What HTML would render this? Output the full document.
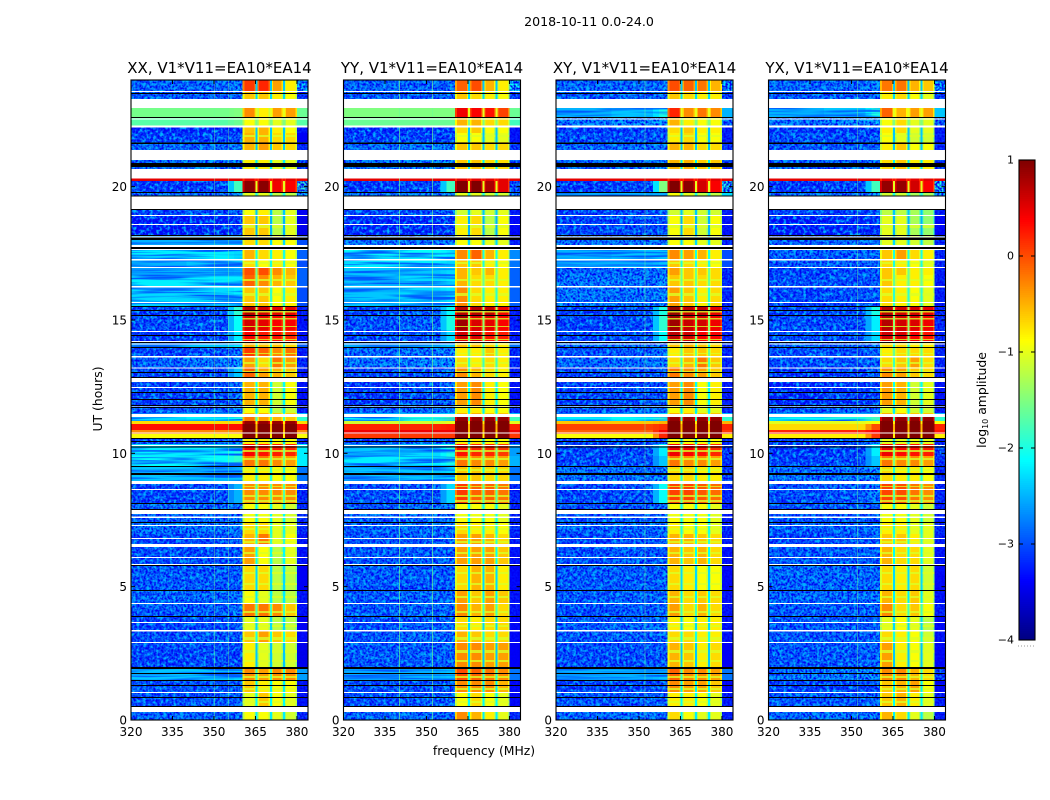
<!DOCTYPE html>
<html lang="en">
<head>
<meta charset="utf-8">
<title>2018-10-11 0.0-24.0</title>
<style>
html,body{margin:0;padding:0;background:#fff;}
svg{display:block;}
text{font-family:"DejaVu Sans","Liberation Sans",sans-serif;fill:#000;}
</style>
</head>
<body>
<svg id="figure" xmlns="http://www.w3.org/2000/svg" width="1050" height="800" viewBox="0 0 1050 800">
<defs>
<filter id="speckle-dark" x="0" y="0" width="100%" height="100%" color-interpolation-filters="sRGB">
<feTurbulence type="fractalNoise" baseFrequency="0.5" numOctaves="2" seed="3"/>
<feColorMatrix type="matrix" values="0 0 0 0 0  0 0 0 0 0  0 0 0 0 0.95  3.4 0 0 0 -1.2"/>
<feComposite in2="SourceAlpha" operator="in"/>
</filter>
<filter id="speckle-light" x="0" y="0" width="100%" height="100%" color-interpolation-filters="sRGB">
<feTurbulence type="fractalNoise" baseFrequency="0.3" numOctaves="2" seed="11"/>
<feColorMatrix type="matrix" values="0 0 0 0 0  0 0 0 0 0.7  0 0 0 0 1  0 3.4 0 0 -1.55"/>
<feComposite in2="SourceAlpha" operator="in"/>
</filter>
<filter id="streak" x="0" y="0" width="100%" height="100%" color-interpolation-filters="sRGB">
<feTurbulence type="fractalNoise" baseFrequency="0.015 0.4" numOctaves="2" seed="7"/>
<feColorMatrix type="matrix" values="0 0 0 0 0  0 0 0 0 0.35  0 0 0 0 1  3.6 0 0 0 -1.5"/>
<feComposite in2="SourceAlpha" operator="in"/>
</filter>
</defs>
</svg>
<script>
/* ---------- chart data ---------- */
const panelTitles = ["XX, V1*V11=EA10*EA14","YY, V1*V11=EA10*EA14","XY, V1*V11=EA10*EA14","YX, V1*V11=EA10*EA14"];
const xTicks = [320,335,350,365,380];
const yTicks = [0,5,10,15,20];
const colorbarTicks = [1,0,-1,-2,-3,-4];
const rowEdges = [24,23.59,23.29,22.95,22.61,22.22,22.01,21.68,21.38,21,20.66,20.31,20.22,19.8,19.65,19.16,18.94,18.15,17.66,17.29,16.99,16.69,16.24,15.52,15.15,14.62,14.21,13.95,13.65,13.24,12.82,11.81,11.51,11.36,11.21,11.1,10.87,10.72,10.57,10.35,9.9,9.52,8.96,8.14,7.42,6.97,6.49,5.85,4.87,4.39,3.9,3.37,2.89,1.99,1.5,1.05,0.52,0];
const gapLevels = [-2.4,-2.3,-1.2,-1,-1.5,-2.4,-2.4,-2.4,-2.4,-2.2,-2.2,0.3,-1,-2,-2,-2.4,-2.5,-2.3,-2,-2,-1.6,-1.6,-1.9,-1.3,-1.4,-1.5,-2,-1.6,-1.8,-1.8,-2.1,-2.2,-2,-1.8,-0.8,-0.5,-0.6,-0.8,-2.3,-1.5,-1.5,-2,-1.7,-2.1,-2,-1.9,-2.1,-2.3,-2.2,-1.8,-2.3,-2,-2.4,-1.9,-2.2,-2.1,-2.2];
const flaggedBands = [[23.59,23.55],[23.29,22.95],[22.56,22.52],[22.29,22.22],[21.38,21],[20.66,20.31],[19.65,19.16],[18.94,18.9],[18.6,18.56],[18.13,18.09],[17.81,17.74],[17.66,17.63],[17.29,17.23],[16.99,16.95],[16.28,16.22],[15.68,15.64],[14.59,14.55],[14.21,14.18],[14.12,14.08],[13.65,13.59],[13.22,13.18],[12.83,12.68],[12.49,12.45],[11.79,11.76],[11.48,11.36],[10.78,10.74],[10.31,10.28],[8.96,8.85],[8.66,8.63],[7.88,7.73],[7.63,7.58],[7.31,7.28],[6.83,6.79],[6.6,6.49],[6.11,6.08],[5.85,5.81],[4.39,4.35],[3.68,3.64],[3.38,3.32],[2.93,2.89],[1.05,1.01],[0.49,0.3]];
const darkBands = [[23.51,23.48],[22.61,22.58],[21.66,21.6],[20.89,20.74],[19.8,19.76],[19.67,19.63],[19.16,19.13],[18.19,18.15],[18.09,18],[17.74,17.66],[15.53,15.49],[15.38,15.34],[15.19,15.15],[14.44,14.4],[14.18,14.14],[13.99,13.95],[13.05,13.01],[12.86,12.83],[12.3,12.26],[12.04,12],[11.81,11.78],[11.74,11.7],[10.58,10.54],[10.46,10.43],[10.26,10.22],[9.53,9.49],[9.26,9.19],[8.14,8.1],[7.91,7.88],[7.43,7.39],[5.81,5.78],[4.88,4.84],[3.9,3.86],[1.99,1.91],[1.76,1.73],[1.5,1.46],[1.31,1.28],[0.86,0.83],[0.53,0.49]];
const bandSeparators = [[21.94,21.86],[18.56,18.45],[17.18,17.1],[16.54,16.46],[16.01,15.9],[15.34,15.28],[15.08,15.02],[14.78,14.74],[14.29,14.25],[13.76,13.73],[13.43,13.35],[13.09,13.05],[10.13,10.05],[9.83,9.75],[9.41,9.34],[8.78,8.74],[8.44,8.36],[8.25,8.18],[7.69,7.61],[7.2,7.13],[6.71,6.64],[6.3,6.23],[5.55,5.48],[5.14,5.06],[4.65,4.58],[4.09,4.01],[3.56,3.49],[3.11,3],[2.63,2.51],[2.25,2.18],[1.65,1.58],[1.2,1.13],[0.71,0.64]];
const separatorLevel = -1.05;
const rfiChannels = [[350,355],[340,352],[352],[352]];
/* each row: 320-340, 340-355, 355-360.4, subband 1-4, 380-384 MHz, log10 amplitude */
const valuesXX = [
[-2.7,-2.7,-2.6,.1,.2,-.4,-.8,-2.3],[-2.8,-2.8,-2.7,-.6,-.6,-.8,-.9,-2.9],[-1.5,-1.5,-1.5,-.6,-.6,-.6,-.6,-1.5],[-1.55,-1.55,-1.5,-.3,-.8,-.4,-.4,-1.6],[-1.7,-1.7,-1.6,-.9,-.9,-1,-1,-1.7],
[-3.2,-3.2,-3.1,-.6,-.5,-.8,-.9,-3.2],[-3,-3,-2.9,-.5,-.5,-.7,-.7,-3.4],[-2.7,-2.7,-2.6,-.5,-.4,-.6,-.7,-3],[-2.7,-2.7,-2.6,-.5,-.4,-.6,-.7,-3],[-2.7,-2.7,-2.6,-.8,-.8,-1,-1,-2.8],
[-2.7,-2.7,-2.6,-.8,-.8,-1,-1,-2.8],[.5,.5,.5,.5,.5,.5,.5,.5],[-3.1,-3,-1.8,.95,.95,.45,.4,-1.9],[-2.6,-2.6,-2.5,-1,-1,-1.2,-1.2,-2.4],[-2.6,-2.6,-2.5,-1,-1,-1.2,-1.2,-2.4],
[-3,-2.9,-2.8,-.9,-.8,-1.2,-1,-3.4],[-3.3,-3.2,-3.1,-.6,-.6,-1.2,-1,-3.5],[-2.5,-2.5,-2.5,-.7,-.7,-.9,-.9,-3],[-2.2,-2.2,-2.3,-.5,-.7,-.8,-.9,-2.9],[-2.5,-2.4,-2.4,-.7,-.9,-.8,-.9,-3],
[-2.5,-2.5,-2.4,0,0,-.3,-.5,-2.9],[-2.2,-2.2,-2.2,-.1,-.3,-.5,-.6,-2.9],[-2.3,-2.3,-2.2,-.6,-.6,-.9,-.8,-3],[-3,-2.9,-1.9,.75,.6,.5,.5,-3.1],[-2.9,-2.9,-2.1,.6,.5,.4,.4,-3.2],
[-3.1,-3,-2.2,.4,.25,.3,.2,-3.2],[-2.4,-2.4,-2.2,-.5,-.6,-.6,-.7,-2.9],[-3,-2.9,-2.6,.1,-.1,-.3,-.2,-3.1],[-2.7,-2.6,-2.4,-.4,-.7,-.2,-.4,-3],[-3,-2.9,-2.4,-.1,-.4,-.5,-.6,-3.1],
[-3,-2.9,-2.6,-.5,-.5,-1.1,-.9,-3.2],[-2.9,-2.8,-2.6,-.9,-.9,-1.2,-1.1,-3.1],[-2.5,-2.5,-2.3,-.5,-.5,-.6,-.6,-2.5],[-2.3,-2.2,-2,-.2,-.4,-.5,-.6,-1.9],[-.7,-.7,-.7,.9,.9,.9,.9,-.7],
[.3,.3,.3,1.3,1.3,1.3,1.3,.3],[-.3,-.3,-.3,1.3,1.3,1.3,1.3,-.3],[-.9,-.9,-.9,1.3,1.3,1.3,1.3,-.9],[-3,-2.8,-2.7,-.8,-.8,-.9,-.9,-3],[-2.2,-2.2,-2,.4,.3,.25,.2,-2.2],
[-2.1,-2.1,-1.9,-.2,-.2,-.3,-.4,-2.2],[-2.4,-2.4,-2.4,-.8,-.8,-.9,-.9,-2.8],[-3,-2.9,-2.5,-.3,-.3,-.3,-.3,-3],[-2.7,-2.7,-2.6,-.9,-.9,-1,-1.1,-3],[-2.6,-2.6,-2.5,-.7,-.7,-1,-1,-3],
[-3,-2.9,-2.7,-.5,-.2,-1,-.9,-3.2],[-2.9,-2.9,-2.8,-.4,-.9,-1.2,-1,-3.2],[-2.8,-2.8,-2.8,-.7,-.7,-1.2,-1.2,-3.4],[-2.7,-2.7,-2.6,-.9,-1,-1.2,-1.2,-3.2],[-2.8,-2.8,-2.6,-.2,-.2,-.3,-.6,-3.2],
[-3,-2.9,-2.8,-1,-1,-1.2,-1.2,-3.4],[-2.9,-2.8,-2.8,-.6,-.4,-.6,-.7,-3.3],[-3,-2.9,-3,-.8,-1,-1.1,-1.1,-3.5],[-2.4,-2.4,-2.3,-.3,-.4,-.3,-.3,-2.6],[-2.9,-2.9,-2.8,-.6,-.8,-.9,-.9,-3.2],
[-2.9,-2.8,-2.8,-1,-.6,-.9,-1,-3.2],[-2.7,-2.7,-2.7,-.9,-.9,-1,-1.1,-3]];
const valuesYY = [
[-2.7,-2.7,-2.7,-.1,0,-.5,-.8,-2.1],[-2.8,-2.8,-2.7,-.6,-.7,-.8,-.9,-2.8],[-1.5,-1.5,-1.5,-.6,-.6,-.6,-.6,-1.5],[-1.5,-1.5,-1.5,.45,.4,.3,.05,-1.6],[-1.6,-1.6,-1.6,-.5,-.5,-.7,-.7,-1.8],
[-3.2,-3.2,-3.1,-.7,-.6,-.9,-.9,-3.2],[-3,-3,-2.9,-.9,-.9,-1,-1,-3.2],[-2.7,-2.6,-2.5,-.6,-.6,-.7,-.7,-2.9],[-2.7,-2.6,-2.5,-.6,-.6,-.7,-.7,-2.9],[-2.6,-2.5,-2.4,-.6,-.6,-.7,-.7,-2.7],
[-2.6,-2.5,-2.4,-.6,-.6,-.7,-.7,-2.7],[.5,.5,.5,.5,.5,.5,.5,.5],[-3.1,-3,-1.8,1,1,.8,.5,-2.6],[-2.6,-2.6,-2.4,-1,-1,-1.1,-1.1,-2.5],[-2.6,-2.6,-2.4,-1,-1,-1.1,-1.1,-2.5],
[-3,-2.9,-2.9,-1.1,-1,-1.1,-1,-3.1],[-3.2,-3.2,-3.1,-.8,-.7,-1.2,-.9,-3.3],[-2.6,-2.6,-2.6,-.9,-.9,-1,-1,-3.1],[-2.1,-2.1,-2.2,-.3,-.1,-.5,-.8,-2.7],[-2.2,-2.2,-2.3,-.6,-.6,-.8,-.9,-2.8],
[-2.4,-2.4,-2.3,-.5,-.6,-.5,-.8,-2.9],[-2.4,-2.3,-2.2,-.5,-.7,-.7,-.8,-2.9],[-2.4,-2.3,-2.2,-.3,-.7,-.8,-.8,-2.9],[-3,-2.8,-2.1,.75,.75,.7,.45,-3.1],[-2.9,-2.8,-2,.85,.55,.5,.4,-3.1],
[-3,-2.9,-2.3,.6,.55,.3,.25,-3.1],[-2.5,-2.5,-2.3,-.6,-.6,-.7,-.8,-2.8],[-2.7,-2.6,-2.5,-.8,-.8,-.6,-.8,-3],[-2.6,-2.5,-2.4,-.7,-.8,-.7,-.8,-3],[-3,-2.9,-2.7,-.3,-.5,-.7,-.8,-3.1],
[-3.1,-2.9,-2.7,-.4,-.3,-.8,-.9,-3.2],[-2.8,-2.7,-2.5,-.8,-.8,-.9,-.9,-3],[-2.5,-2.5,-2.3,-.5,-.5,-.6,-.6,-2.5],[-2.1,-2,-1.8,.9,.9,.9,.9,-1.8],[-1.1,-1.1,-1,1.3,1.3,1.3,1.3,-1],
[.2,.2,.25,1.3,1.3,1.3,1.3,.2],[.45,.45,.45,1.3,1.3,1.3,1.3,.45],[.1,.1,.1,1.3,1.3,1.3,1.3,.1],[-2.9,-2.8,-2.7,-.8,-.8,-.9,-.9,-3],[-2.4,-2.3,-2,.3,.2,.2,.1,-2.6],
[-2.2,-2.2,-2,-.2,-.3,-.3,-.4,-2.5],[-2.4,-2.4,-2.3,-.6,-.6,-.7,-.7,-2.8],[-2.9,-2.9,-2.3,.1,-.1,-.1,-.2,-3],[-2.8,-2.7,-2.6,-.9,-.9,-.9,-1,-3],[-2.8,-2.7,-2.6,-.7,-.8,-.8,-.9,-3],
[-2.8,-2.8,-2.7,-.4,-.4,-.5,-.7,-3.1],[-2.8,-2.8,-2.8,-.4,-.4,-.4,-.6,-3.2],[-2.8,-2.8,-2.8,-.7,-.5,-.5,-.8,-3.3],[-2.8,-2.7,-2.7,-.4,-.6,-.4,-.6,-3.2],[-2.8,-2.7,-2.7,-.3,-.5,-.4,-.7,-3.2],
[-2.9,-2.8,-2.7,-.7,-.8,-.7,-.7,-3.3],[-2.8,-2.7,-2.7,-.5,-.6,-.7,-.7,-3.3],[-2.8,-2.8,-2.7,-.3,-.3,-.4,-.4,-3.4],[-2.5,-2.5,-2.4,0,-.1,-.2,-.3,-2.8],[-2.9,-2.9,-2.8,-.3,-.3,-.3,-.5,-3.3],
[-2.9,-2.8,-2.7,-.9,-.7,-.9,-1,-3.3],[-2.7,-2.7,-2.7,-.3,-.5,-.8,-1,-3]];
const valuesXY = [
[-2.7,-2.7,-2.6,0,-.1,-.2,-.5,-2.3],[-2.8,-2.8,-2.7,-.6,-.7,-.8,-.8,-2.8],[-2.4,-2.4,-2.3,-.6,-.6,-.6,-.6,-2.4],[-2.5,-2.4,-2,.2,-.3,-.2,-.3,-2.5],[-2.6,-2.5,-2.3,-.5,-.8,-.9,-.9,-2.6],
[-3.1,-3.1,-3,-.7,-.6,-.8,-.8,-3.1],[-2.9,-2.9,-2.8,-.8,-.7,-.9,-.9,-3.1],[-2.7,-2.7,-2.6,-.5,-.5,-.7,-.7,-2.9],[-2.7,-2.7,-2.6,-.5,-.5,-.7,-.7,-2.9],[-2.7,-2.6,-2.5,-.5,-.5,-.6,-.6,-2.8],
[-2.7,-2.6,-2.5,-.5,-.5,-.6,-.6,-2.8],[.5,.5,.5,.5,.5,.5,.5,.5],[-3.1,-3,-1.5,1,.95,.6,.4,-2],[-2.5,-2.5,-2.4,-.9,-1,-1.2,-1.2,-2.3],[-2.5,-2.5,-2.4,-.9,-1,-1.2,-1.2,-2.3],
[-3,-2.9,-2.8,-1.1,-1,-1.1,-1.1,-3.1],[-3,-2.9,-2.9,-.9,-.7,-1.1,-.9,-3.2],[-2.6,-2.6,-2.6,-.9,-.9,-1,-1,-3],[-2.5,-2.4,-2.4,-.3,-.4,-.5,-.8,-3],[-2.5,-2.5,-2.4,-.6,-.7,-.8,-.9,-3],
[-2.8,-2.7,-2.6,-.4,-.6,-.6,-.7,-3],[-2.6,-2.6,-2.5,-.6,-.6,-.7,-.7,-3],[-2.6,-2.6,-2.5,-.4,-.6,-.8,-.7,-3],[-3,-2.9,-2,.9,.7,.7,.5,-2.9],[-3,-2.9,-1.9,.85,.65,.6,.45,-2.9],
[-3,-2.9,-2.1,.7,.6,.4,.4,-3],[-2.6,-2.6,-2.4,-.6,-.5,-.6,-.7,-2.9],[-2.9,-2.8,-2.6,-.8,-.6,-.6,-.7,-3],[-2.7,-2.6,-2.5,-.7,-.5,-.2,-.6,-3],[-3,-2.9,-2.7,-.2,-.3,-.4,-.6,-3.1],
[-3,-2.9,-2.8,-.4,-.3,-.9,-.8,-3.1],[-2.8,-2.7,-2.6,-.9,-.8,-1,-1,-3],[-2.5,-2.5,-2.3,-.5,-.5,-.6,-.6,-2.5],[-2.2,-2.1,-1.9,.9,.9,.9,.9,-1.9],[-.6,-.6,-.5,1.3,1.3,1.3,1.3,-.5],
[.05,.05,.15,1.3,1.3,1.3,1.3,.2],[-.1,-.1,.4,1.3,1.3,1.3,1.3,.1],[-.9,-.9,.2,1.3,1.3,1.3,1.3,-.8],[-3,-2.9,-2.8,-.9,-.9,-.9,-.9,-3],[-3,-2.9,-2.2,.45,.4,.3,.2,-2.8],
[-3,-2.9,-2.4,-.2,-.3,-.3,-.4,-2.9],[-2.6,-2.6,-2.5,-.7,-.7,-.8,-.8,-2.8],[-3,-2.9,-2.1,.05,.05,-.05,-.15,-3],[-2.9,-2.8,-2.7,-.9,-.9,-.9,-1,-3.1],[-2.7,-2.7,-2.6,-.8,-.9,-.9,-1,-3],
[-3,-2.9,-2.7,-.5,-.5,-.6,-.7,-3.1],[-2.9,-2.8,-2.8,-.5,-.6,-.5,-.7,-3.2],[-2.8,-2.8,-2.7,-.7,-.8,-.9,-.9,-3.3],[-2.8,-2.7,-2.7,-.5,-.7,-.6,-.7,-3.2],[-2.9,-2.8,-2.7,-.4,-.7,-.5,-.7,-3.2],
[-2.8,-2.7,-2.7,-.8,-.9,-.8,-.8,-3.2],[-2.8,-2.8,-2.7,-.7,-.7,-.8,-.8,-3.2],[-2.9,-2.9,-2.8,-.5,-.6,-.8,-.7,-3.4],[-2.5,-2.5,-2.4,-.1,-.3,-.3,-.4,-2.8],[-3,-3,-2.9,-.3,-.4,-.4,-.6,-3.3],
[-2.8,-2.8,-2.7,-.8,-.8,-.9,-1,-3.1],[-2.7,-2.6,-2.6,-.7,-.9,-1,-1,-3.1]];
const valuesYX = [
[-2.7,-2.7,-2.5,-.2,-.2,-.5,-.6,-2.3],[-2.8,-2.8,-2.7,-.8,-.7,-.9,-1,-2.8],[-2.5,-2.5,-2.4,-.8,-.8,-.8,-.8,-2.5],[-2.5,-2.4,-2,-.1,-.5,-.4,-.4,-2.4],[-2.6,-2.5,-2.3,-.9,-.7,-1,-1,-2.6],
[-3.1,-3.1,-3,-.8,-.7,-1,-1,-3.1],[-2.9,-2.9,-2.8,-.9,-1,-1.1,-1.1,-3.1],[-2.8,-2.8,-2.7,-.8,-.6,-.9,-.9,-3],[-2.8,-2.8,-2.7,-.8,-.6,-.9,-.9,-3],[-2.8,-2.7,-2.6,-.7,-.6,-.8,-.8,-2.9],
[-2.8,-2.7,-2.6,-.7,-.6,-.8,-.8,-2.9],[.5,.5,.5,.5,.5,.5,.5,.5],[-3.1,-3,-1.8,.9,.9,.6,.4,-2],[-2.6,-2.6,-2.5,-1.1,-1.1,-1.3,-1.3,-2.4],[-2.6,-2.6,-2.5,-1.1,-1.1,-1.3,-1.3,-2.4],
[-3,-3,-2.9,-1.2,-1.2,-1.3,-1.4,-3.1],[-3.3,-3.2,-3.1,-1,-1,-1.3,-1.4,-3.3],[-2.8,-2.8,-2.7,-1,-1,-1.1,-1.2,-3],[-2.8,-2.8,-2.7,-.6,-.4,-.7,-.8,-3],[-2.8,-2.8,-2.7,-.7,-.8,-.9,-1,-3],
[-3,-2.9,-2.8,-.6,-.6,-.8,-.8,-3.1],[-2.9,-2.9,-2.8,-.6,-.8,-.8,-.9,-3.1],[-3,-2.9,-2.8,-.7,-.8,-.9,-1,-3.1],[-3,-2.9,-2,.75,.6,.6,.5,-3],[-2.9,-2.9,-2.2,.75,.6,.55,.45,-3],
[-2.9,-2.9,-2.3,.6,.55,.4,.3,-3],[-2.7,-2.7,-2.5,-.7,-.7,-.8,-.8,-3],[-2.9,-2.9,-2.7,-.8,-.7,-.7,-.7,-3],[-2.9,-2.9,-2.7,-.7,-.6,-.4,-.7,-3],[-3.1,-3,-2.8,-.3,-.4,-.6,-.7,-3.1],
[-3.2,-3.1,-3,-.4,-.5,-1.1,-1,-3.2],[-2.9,-2.8,-2.7,-1,-.9,-1.1,-1.1,-3.1],[-2.5,-2.5,-2.3,-.5,-.5,-.6,-.6,-2.5],[-2.1,-2,-1.8,.9,.9,.9,.9,-1.9],[-1,-1,-.9,1.3,1.3,1.3,1.3,-.9],
[-.7,-.7,0,1.3,1.3,1.3,1.3,.2],[.2,.2,.4,1.3,1.3,1.3,1.3,.3],[-.8,-.8,.1,1.3,1.3,1.3,1.3,-.8],[-3,-2.9,-2.8,-1,-1,-1,-1,-3.1],[-3.1,-3,-2.2,.45,.35,.3,.25,-2.7],
[-3,-2.9,-2.4,-.2,-.3,-.3,-.4,-2.9],[-2.6,-2.6,-2.5,-.7,-.8,-.8,-.9,-3],[-2.9,-2.8,-2.5,.05,0,-.2,-.3,-3],[-2.9,-2.8,-2.8,-.9,-.9,-1,-1.1,-3.1],[-2.8,-2.7,-2.6,-.8,-.8,-1,-1,-3],
[-3,-2.9,-2.8,-.6,-.6,-.8,-1,-3.1],[-2.8,-2.8,-2.8,-.5,-.7,-.7,-1,-3.2],[-2.7,-2.7,-2.7,-.7,-.8,-.7,-1.1,-3.3],[-2.7,-2.7,-2.6,-.5,-.7,-.6,-1,-3.2],[-2.8,-2.8,-2.7,-.3,-.7,-.6,-.9,-3.1],
[-2.8,-2.8,-2.7,-1,-.9,-1,-1.2,-3.3],[-2.8,-2.8,-2.7,-.7,-.8,-.9,-1.1,-3.2],[-2.8,-2.8,-2.7,-.4,-.8,-.9,-1,-3.3],[-2.6,-2.5,-2.4,-.3,-.3,-.5,-.7,-2.8],[-3,-3,-2.9,-.6,-.5,-.4,-.9,-3.3],
[-2.8,-2.8,-2.7,-.6,-.5,-.8,-1,-3.1],[-2.7,-2.6,-2.6,-.5,-.7,-1,-1.2,-3.1]];
const panelValues = [valuesXX,valuesYY,valuesXY,valuesYX];
/* frequency channel edges (MHz) */
const bgEdges = [320,340,355,360.4];
const subbandEdges = [[360.4,361,364.6,365.1],[365.8,366.3,369.7,370.2],[370.9,371.4,374.4,374.9],[375.6,376.1,379.5,380]];
const edgeChannel = [380,384];

/* ---------- layout and scales ---------- */
const NS = "http://www.w3.org/2000/svg";
const svg = document.getElementById("figure");
const panelLeft = [131,343.5,556,768.5];
const panelWidth = 177, plotTop = 80, plotBottom = 720;
const freqMin = 320, freqMax = 384, vMin = -4, vMax = 1, taper = 0.35;
const cbLeft = 1019, cbWidth = 16, cbTop = 160, cbBottom = 640;

function xScale(p, mhz){ return panelLeft[p] + (mhz - freqMin) / (freqMax - freqMin) * panelWidth; }
function yScale(hour){ return plotBottom - hour / 24 * (plotBottom - plotTop); }
function cbScale(v){ return cbBottom - (v - vMin) / (vMax - vMin) * (cbBottom - cbTop); }
function clamp01(a){ return Math.max(0, Math.min(1, a)); }
function jet(v){
  const t = clamp01((v - vMin) / (vMax - vMin));
  const r = clamp01(Math.min(4*t - 1.5, -4*t + 4.5));
  const g = clamp01(Math.min(4*t - 0.5, -4*t + 3.5));
  const b = clamp01(Math.min(4*t + 0.5, -4*t + 2.5));
  return "rgb(" + Math.round(r*255) + "," + Math.round(g*255) + "," + Math.round(b*255) + ")";
}
function make(tag, attrs, parent){
  const el = document.createElementNS(NS, tag);
  for (const k in attrs) el.setAttribute(k, attrs[k]);
  (parent || svg).appendChild(el);
  return el;
}
function addRect(parent, name, x, y, w, h, fill){
  const el = make("rect", {x:x, y:y, width:w, height:h, fill:fill, "shape-rendering":"crispEdges"}, parent);
  
  
  return el;
}
function addLine(parent, name, x1, y1, x2, y2, sw){
  const el = make("line", {x1:x1, y1:y1, x2:x2, y2:y2, stroke:"#000", "stroke-width":sw}, parent);
  
  
  return el;
}
function addText(parent, name, str, x, y, size, anchor, extra){
  const el = make("text", Object.assign({x:x, y:y, "font-size":size, "text-anchor":anchor}, extra || {}), parent);
  el.textContent = str;
  
  
  return el;
}

/* ---------- panels ---------- */
panelValues.forEach(function(rows, p){
  const group = make("g", {});
  
  
  const x0 = panelLeft[p], x1 = x0 + panelWidth;

  rows.forEach(function(row, i){
    const y = yScale(rowEdges[i]), h = yScale(rowEdges[i+1]) - y;
    addRect(group, 'heatmap-cell', xScale(p, bgEdges[0]), y, xScale(p, bgEdges[1]) - xScale(p, bgEdges[0]), h, jet(row[0]));
    addRect(group, 'heatmap-cell', xScale(p, bgEdges[1]), y, xScale(p, bgEdges[2]) - xScale(p, bgEdges[1]), h, jet(row[1]));
    const rampMid = (bgEdges[2] + bgEdges[3]) / 2 - 0.4;
    addRect(group, 'heatmap-cell', xScale(p, bgEdges[2]), y, xScale(p, rampMid) - xScale(p, bgEdges[2]), h, jet((row[1] + row[2]) / 2));
    addRect(group, 'heatmap-cell', xScale(p, rampMid), y, xScale(p, bgEdges[3]) - xScale(p, rampMid), h, jet(row[2]));
    subbandEdges.forEach(function(edges, s){
      const level = row[3+s];
      addRect(group, 'heatmap-cell', xScale(p, edges[0]), y, xScale(p, edges[1]) - xScale(p, edges[0]), h, jet(level - taper));
      addRect(group, 'heatmap-cell', xScale(p, edges[1]), y, xScale(p, edges[2]) - xScale(p, edges[1]), h, jet(level));
      addRect(group, 'heatmap-cell', xScale(p, edges[2]), y, xScale(p, edges[3]) - xScale(p, edges[2]), h, jet(level - taper));
      if (s < 3) addRect(group, 'heatmap-cell', xScale(p, edges[3]), y, xScale(p, subbandEdges[s+1][0]) - xScale(p, edges[3]), h, jet(gapLevels[i]));
    });
    addRect(group, 'heatmap-cell', xScale(p, edgeChannel[0]), y, xScale(p, edgeChannel[1]) - xScale(p, edgeChannel[0]), h, jet(row[7]));
  });

  /* receiver noise grain on noisy rows, drift streaks on the smoother rows */
  const grainDark = make("g", {filter:"url(#speckle-dark)"}, group);
  
  
  const grainLight = make("g", {filter:"url(#speckle-light)"}, group);
  
  
  const streaks = make("g", {filter:"url(#streak)"}, group);
  
  
  rows.forEach(function(row, i){
    const y = yScale(rowEdges[i]), h = yScale(rowEdges[i+1]) - y;
    if (row[0] <= -2.55){
      const noisyEnd = row[2] - row[1] > 0.3 ? bgEdges[2] : bgEdges[3];
      addRect(grainDark, 'noise-row', x0, y, xScale(p, noisyEnd) - x0, h, "#000");
      addRect(grainDark, 'noise-row', xScale(p, edgeChannel[0]), y, x1 - xScale(p, edgeChannel[0]), h, "#000");
      addRect(grainLight, 'noise-row', x0, y, xScale(p, noisyEnd) - x0, h, "#000");
    } else if (row[0] < -1.9){
      addRect(streaks, 'streak-row', x0, y, xScale(p, bgEdges[3]) - x0, h, "#000");
    }
  });

  rfiChannels[p].forEach(function(mhz){
    const el = addRect(group, 'rfi-channel-line', xScale(p, mhz), plotTop, 1, plotBottom - plotTop, jet(-1.6));
    el.setAttribute("opacity", p === 1 ? 0.65 : 0.4);
  });

  bandSeparators.forEach(function(b){
    subbandEdges.forEach(function(edges){
      const el = addRect(group, 'band-separator', xScale(p, edges[0]), yScale(b[0]), xScale(p, edges[3]) - xScale(p, edges[0]), yScale(b[1]) - yScale(b[0]), jet(separatorLevel));
      el.setAttribute("opacity", 0.8);
    });
  });

  flaggedBands.forEach(function(b){
    addRect(group, 'flagged-band', x0, yScale(b[0]), panelWidth, yScale(b[1]) - yScale(b[0]), "#fff");
  });
  darkBands.forEach(function(b){
    addRect(group, 'dark-band', x0, yScale(b[0]), panelWidth, yScale(b[1]) - yScale(b[0]), "#000");
  });

  /* ticks */
  xTicks.forEach(function(t){
    const x = xScale(p, t);
    addLine(group, 'x-tick', x, plotBottom, x, plotBottom - 4, 1);
    addLine(group, 'x-tick-top', x, plotTop, x, plotTop + 4, 1);
    addText(group, 'x-tick-label', String(t), x, 736, 12, "middle");
  });
  yTicks.forEach(function(t){
    const y = yScale(t);
    addLine(group, 'y-tick', x0, y, x0 + 4, y, 1);
    addLine(group, 'y-tick-right', x1, y, x1 - 4, y, 1);
    addText(group, 'y-tick-label', String(t), x0 - 4, y + 4.5, 12, "end");
  });

  const frame = make("rect", {x:x0, y:plotTop, width:panelWidth, height:plotBottom - plotTop, fill:"none", stroke:"#000", "stroke-width":1.1}, group);
  
  

  addText(group, 'panel-title', panelTitles[p], x0 + panelWidth/2, 73, 15, "middle");
});

/* ---------- figure labels ---------- */
addText(svg, 'figure-title', "2018-10-11 0.0-24.0", 589, 26, 12.6, "middle");
addText(svg, 'x-axis-title', "frequency (MHz)", 484, 755, 12.4, "middle");
addText(svg, 'y-axis-title', "UT (hours)", 0, 0, 12.4, "middle", {transform:"translate(102,399) rotate(-90)"});

/* ---------- colorbar ---------- */
const cb = make("g", {});


for (let v = vMin; v < vMax; v += 0.02){
  addRect(cb, 'colorbar-step', cbLeft, cbScale(v + 0.02), cbWidth, cbScale(v) - cbScale(v + 0.02) + 0.5, jet(v + 0.01));
}
colorbarTicks.forEach(function(t){
  const y = cbScale(t);
  addLine(cb, 'colorbar-tick', cbLeft, y, cbLeft + 4, y, 1);
  addLine(cb, 'colorbar-tick-right', cbLeft + cbWidth, y, cbLeft + cbWidth - 4, y, 1);
  addText(cb, 'colorbar-tick-label', t < 0 ? "\u2212" + Math.abs(t) : String(t), cbLeft - 5, y + 3.5, 11, "end");
});
const cbFrame = make("rect", {x:cbLeft, y:cbTop, width:cbWidth, height:cbBottom - cbTop, fill:"none", stroke:"#000", "stroke-width":1.1}, cb);


const cbDots = make("line", {x1:cbLeft - 1, y1:646, x2:cbLeft + cbWidth, y2:646, stroke:"#999", "stroke-width":1, "stroke-dasharray":"1 2"}, cb);



const cbLabel = addText(cb, 'colorbar-title', "", 0, 0, 12.4, "middle", {transform:"translate(986,400) rotate(-90)"});
const t1 = make("tspan", {}, cbLabel); t1.textContent = "log";
const t2 = make("tspan", {dy:2, "font-size":8}, cbLabel); t2.textContent = "10";
const t3 = make("tspan", {dy:-2}, cbLabel); t3.textContent = " amplitude";
</script>
</body>
</html>
